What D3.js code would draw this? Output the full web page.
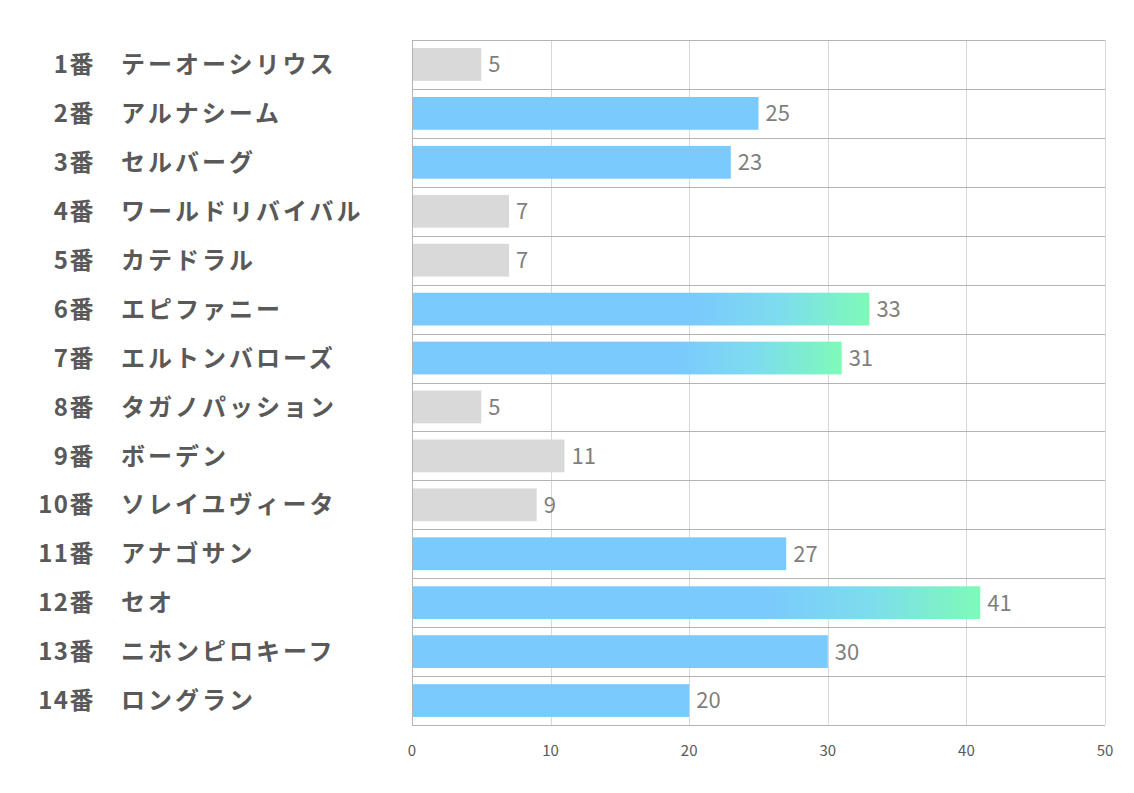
<!DOCTYPE html>
<html>
<head>
<meta charset="utf-8">
<script src="https://cdn.jsdelivr.net/npm/d3@7"></script>
<style>
body { margin: 0; background: #fff; }
text { font-family: "Noto Sans CJK JP", "Noto Sans", sans-serif; }
</style>
</head>
<body>
<svg id="chart" width="1134" height="793"></svg>
<script>
var numbers = ["1番","2番","3番","4番","5番","6番","7番","8番","9番","10番","11番","12番","13番","14番"];
var names = ["テーオーシリウス","アルナシーム","セルバーグ","ワールドリバイバル","カテドラル","エピファニー","エルトンバローズ","タガノパッション","ボーデン","ソレイユヴィータ","アナゴサン","セオ","ニホンピロキーフ","ロングラン"];
var values = [5,25,23,7,7,33,31,5,11,9,27,41,30,20];
var kind = ["gray","blue","blue","gray","gray","grad","grad","gray","gray","gray","blue","grad","blue","blue"];
var xTicks = [0,10,20,30,40,50];

var svg = d3.select("#chart");
var plotLeft = 412, plotRight = 1105, plotTop = 40, plotBottom = 725;

var xScale = d3.scaleLinear().domain([0,50]).range([plotLeft,plotRight]);
var yScale = d3.scaleBand().domain(d3.range(names.length)).range([plotTop,plotBottom]).paddingInner(0.33).paddingOuter(0.165);

var defs = svg.append("defs");
var grad = defs.append("linearGradient").attr("id","g1").attr("x1","0").attr("x2","1").attr("y1","0").attr("y2","0");
grad.append("stop").attr("offset","0.62").attr("stop-color","#7acafd");
grad.append("stop").attr("offset","0.8").attr("stop-color","#7ddcee");
grad.append("stop").attr("offset","1").attr("stop-color","#7efab8");

// vertical grid
svg.append("g").selectAll("line").data(xTicks.slice(1)).enter().append("line")
    .attr("x1", function(d){return Math.round(xScale(d)) + 0.5;})
    .attr("x2", function(d){return Math.round(xScale(d)) + 0.5;})
    .attr("y1", plotTop).attr("y2", plotBottom)
    .attr("stroke", "#d9d9d9").attr("stroke-width", 1);

// horizontal row lines
var rowEdges = d3.range(names.length + 1);
var step = (plotBottom - plotTop) / names.length;
svg.append("g").selectAll("line").data(rowEdges).enter().append("line")
    .attr("x1", plotLeft).attr("x2", plotRight)
    .attr("y1", function(d){return Math.round(plotTop + d*step) + 0.5;})
    .attr("y2", function(d){return Math.round(plotTop + d*step) + 0.5;})
    .attr("stroke", "#b4b4b4").attr("stroke-width", 1);

// left axis line
svg.append("line").attr("x1", plotLeft+0.5).attr("x2", plotLeft+0.5).attr("y1", plotTop).attr("y2", plotBottom)
    .attr("stroke", "#b4b4b4");

// bars
svg.append("g").selectAll("rect").data(values).enter().append("rect")
    .attr("x", xScale(0)+1)
    .attr("y", function(d,i){return yScale(i);})
    .attr("width", function(d){return xScale(d) - xScale(0) - 1;})
    .attr("height", yScale.bandwidth())
    .attr("fill", function(d,i){
        if (kind[i] == "gray") return "#d9d9d9";
        if (kind[i] == "grad") return "url(#g1)";
        return "#7acafd";
    });

// value labels
svg.append("g").selectAll("text").data(values).enter().append("text")
    .text(function(d){return d;})
    .attr("x", function(d){return xScale(d) + 7;})
    .attr("y", function(d,i){return yScale(i) + yScale.bandwidth()/2;})
    .attr("dy", "0.36em")
    .attr("font-size", 22)
    .attr("fill", "#7f7f7f");

// row labels
var labels = svg.append("g");
labels.selectAll("text.num").data(numbers).enter().append("text")
    .attr("class","num")
    .text(function(d){return d;})
    .attr("x", 95)
    .attr("y", function(d,i){return yScale(i) + yScale.bandwidth()/2;})
    .attr("dy", "0.36em")
    .attr("text-anchor", "end")
    .attr("font-size", 24).attr("font-weight", "bold")
    .attr("letter-spacing", 1.5)
    .attr("fill", "#595959");
labels.selectAll("text.name").data(names).enter().append("text")
    .attr("class","name")
    .text(function(d){return d;})
    .attr("x", 121)
    .attr("y", function(d,i){return yScale(i) + yScale.bandwidth()/2;})
    .attr("dy", "0.36em")
    .attr("font-size", 24).attr("font-weight", "bold")
    .attr("letter-spacing", 3)
    .attr("fill", "#595959");

// x tick labels
svg.append("g").selectAll("text").data(xTicks).enter().append("text")
    .text(function(d){return d;})
    .attr("x", function(d){return xScale(d);})
    .attr("y", 756)
    .attr("text-anchor", "middle")
    .attr("font-size", 15)
    .attr("fill", "#595959");
</script>
</body>
</html>
